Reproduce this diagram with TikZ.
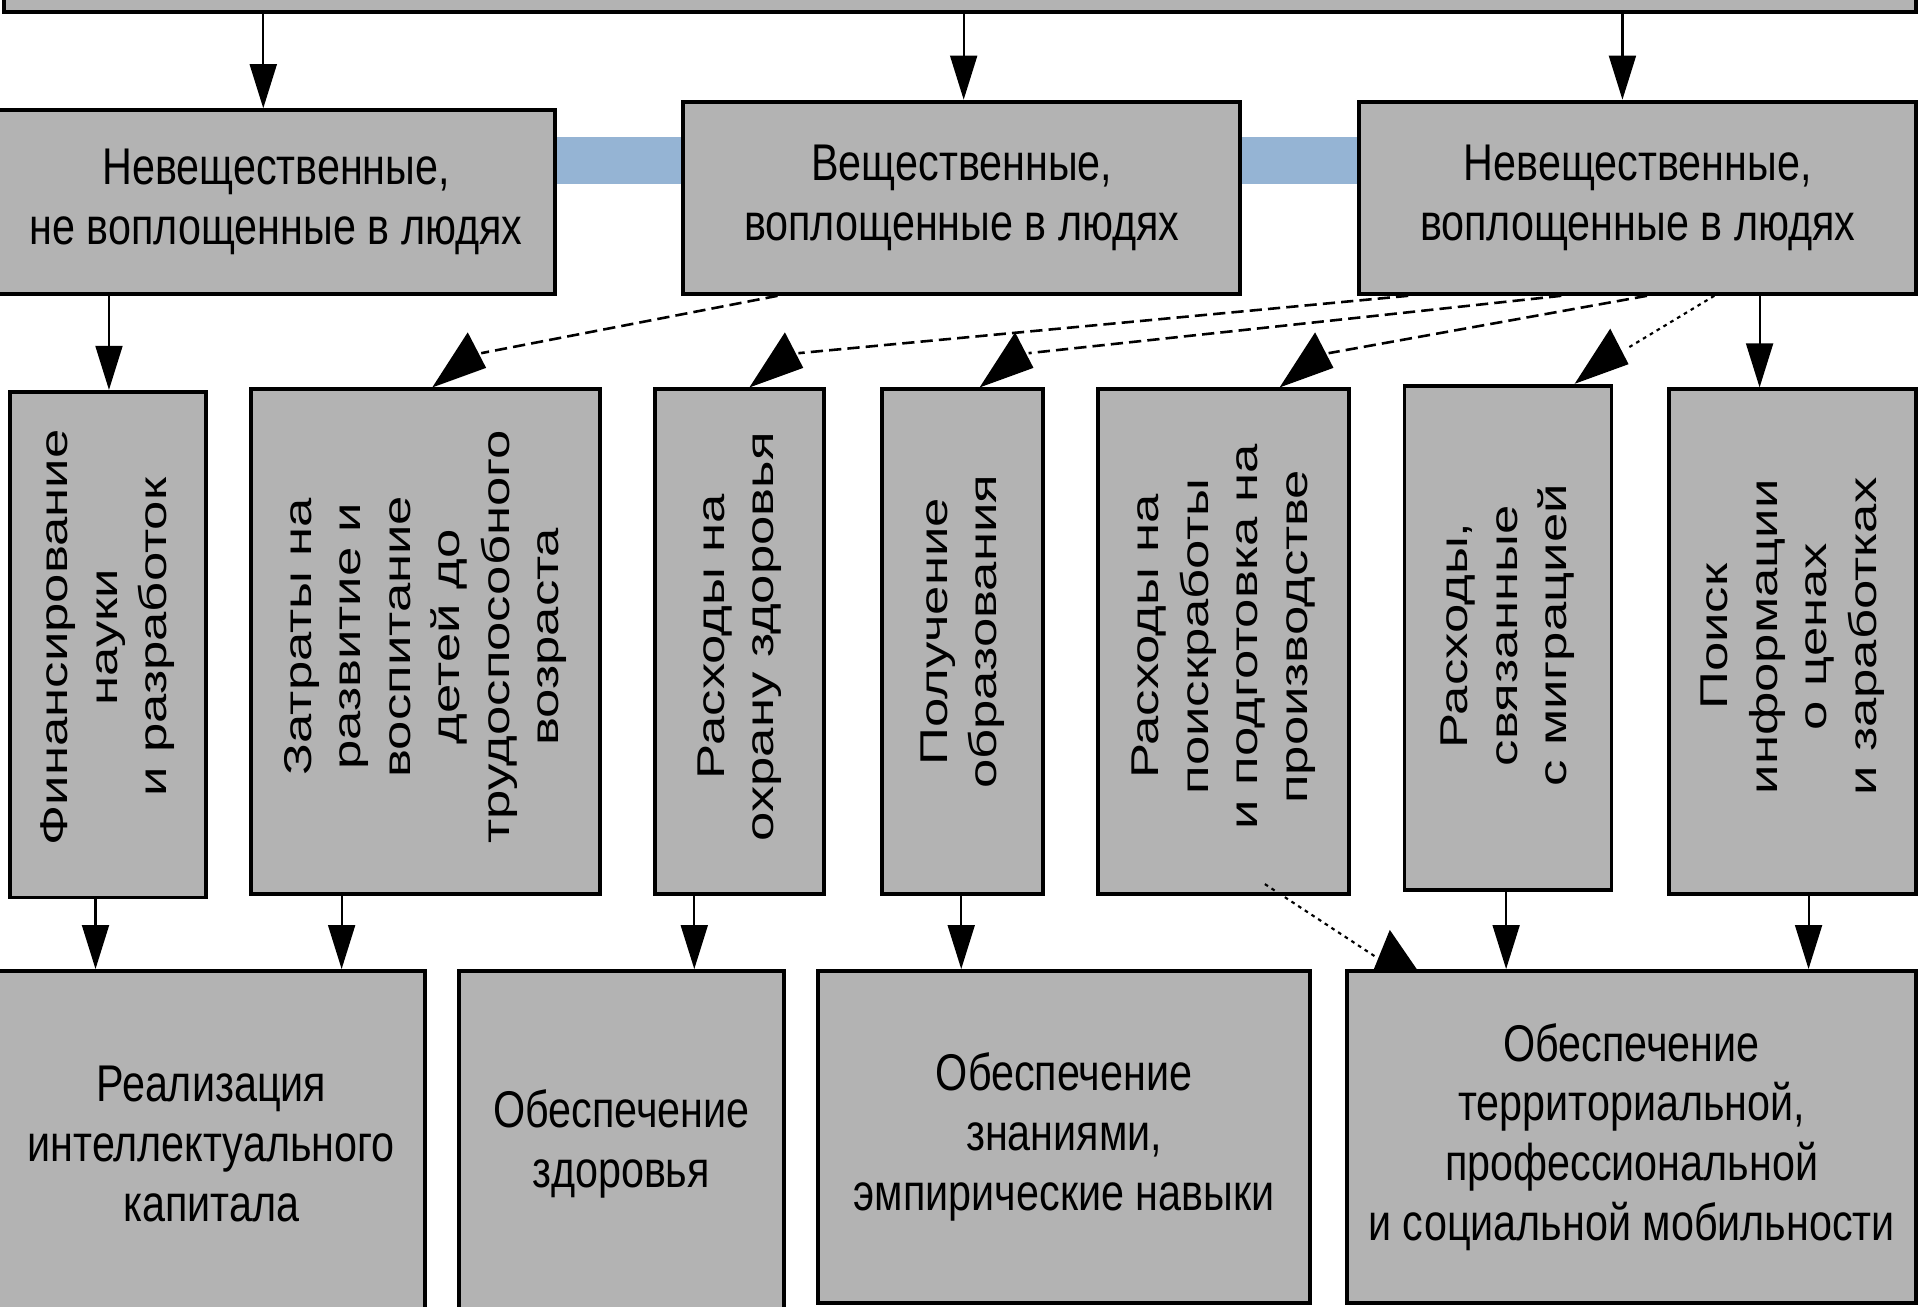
\documentclass[tikz,border=0pt]{standalone}
\usepackage{fontspec}
\usepackage{xcolor}
\usepackage{tikz}
\usetikzlibrary{arrows.meta,calc,backgrounds}
\setmainfont{Liberation Sans}
\newfontfamily\hfont[FakeStretch=0.8]{Liberation Sans}
\newfontfamily\vfont[FakeStretch=1.36]{Liberation Sans}
\definecolor{boxgrey}{RGB}{179,179,179}
\definecolor{linkblue}{RGB}{149,180,212}
\tikzset{
  box/.style={draw=black, fill=boxgrey, line width=0.9pt, inner sep=0pt, align=center,
    font=\hfont\fontsize{12}{13.9}\selectfont},
  vtext/.style={rotate=90, align=center, inner sep=0pt, font=\vfont\fontsize{9}{11.5}\selectfont},
  arr/.style={line width=0.5pt, -{Triangle[length=3.6mm, width=2.2mm]}},
  dashline/.style={line width=0.6pt, dash pattern=on 1mm off 0.5mm},
  dotline/.style={line width=0.5pt, dash pattern=on 0.3mm off 0.35mm},
}
\newcommand{\tiphead}[1]{\fill (#1) -- ++(29,-45) -- ++(15,29) -- cycle;}

\begin{document}
\begin{tikzpicture}[x=0.1mm, y=-0.1mm]
    \useasboundingbox (0,0) rectangle (1568,1067);
    \clip (0,0) rectangle (1568,1067);

    % Top level
    \node[box, minimum width=156.2mm, minimum height=6mm] (top) at (784,-20) {};

    % Kinds of costs
    \node[box, minimum width=45.5mm, minimum height=15mm] (m1) at (225.5,165) {Невещественные,\\не воплощенные в людях};
    \node[box, minimum width=45.5mm, minimum height=15.7mm] (m2) at (785.5,161.5) {Вещественные,\\воплощенные в людях};
    \node[box, minimum width=45.5mm, minimum height=15.7mm] (m3) at (1337.5,161.5) {Невещественные,\\воплощенные в людях};
    \begin{scope}[on background layer]
        \fill[linkblue] (m1.east |- 0,112) rectangle (m2.west |- 0,150);
        \fill[linkblue] (m2.east |- 0,112) rectangle (m3.west |- 0,150);
    \end{scope}

    % Expenses (vertical)
    \node[box, minimum width=16mm, minimum height=41.3mm] (z1) at (88,526.5) {};
    \node[box, minimum width=28.5mm, minimum height=41.2mm] (z2) at (347.5,524) {};
    \node[box, minimum width=13.8mm, minimum height=41.2mm] (z3) at (604,524) {};
    \node[box, minimum width=13.2mm, minimum height=41.2mm] (z4) at (786,524) {};
    \node[box, minimum width=20.5mm, minimum height=41.2mm] (z5) at (999.5,524) {};
    \node[box, minimum width=16.9mm, minimum height=41.2mm] (z6) at (1231.5,521) {};
    \node[box, minimum width=20.2mm, minimum height=41.2mm] (z7) at (1464,524) {};
    \node[vtext] (z1t) at ([yshift=0.6mm]z1.center) {Финансирование\\науки\\и разработок};
    \node[vtext] (z2t) at ([yshift=0.4mm]z2.center) {Затраты на\\развитие и\\воспитание\\детей до\\трудоспособного\\возраста};
    \node[vtext] (z3t) at ([yshift=0.4mm]z3.center) {Расходы на\\охрану здоровья};
    \node[vtext] (z4t) at ([yshift=0.8mm]z4.center) {Получение\\образования};
    \node[vtext] (z5t) at ([yshift=0.4mm]z5.center) {Расходы на\\поискработы\\и подготовка на\\производстве};
    \node[vtext] (z6t) at ([yshift=0.2mm]z6.center) {Расходы,\\связанные\\с миграцией};
    \node[vtext] (z7t) at ([yshift=0.4mm]z7.center) {Поиск\\информации\\о ценах\\и заработках};

    % Results
    \node[box, minimum width=34.9mm, minimum height=28.2mm] (b1) at (172.5,934) {Реализация\\интеллектуального\\капитала};
    \node[box, minimum width=26.5mm, minimum height=28.2mm] (b2) at (507.5,934) {Обеспечение\\здоровья};
    \node[box, minimum width=40.2mm, minimum height=27.1mm] (b3) at (869,928.5) {Обеспечение\\знаниями,\\эмпирические навыки};
    \node[box, minimum width=46.5mm, minimum height=27.1mm] (b4) at (1332.5,928.5) {Обеспечение\\территориальной,\\профессиональной\\и социальной мобильности};

    % Solid links
    \foreach \src/\dst/\xa in {top/m1/215, top/m2/787, top/m3/1325, m1/z1/89, m3/z7/1437,
        z1/b1/78, z2/b1/279, z3/b2/567, z4/b3/785, z6/b4/1230, z7/b4/1477}
        \draw[arr] (\src.south -| \xa,0) -- (\dst.north -| \xa,0);

    % Dashed links
    \foreach \src/\dst/\xa/\xb in {m2/z2/635/353, m3/z3/1150/612, m3/z4/1275/800, m3/z5/1345/1045} {
        \draw[dashline] (\src.south -| \xa,0) -- ($(\dst.north -| \xb,0)+(40,-28)$);
        \tiphead{\dst.north -| \xb,0}
    }
    \draw[dotline] (m3.south -| 1400,0) -- ($(z6.north -| 1286,0)+(43,-29)$);
    \tiphead{z6.north -| 1286,0}
    \draw[dotline] (1033,722) -- ($(b4.north -| 1122,0)+(3,-9)$);
    \fill (b4.north -| 1122,0) -- ++(13,-32) -- ++(22,32) -- cycle;
\end{tikzpicture}
\end{document}
